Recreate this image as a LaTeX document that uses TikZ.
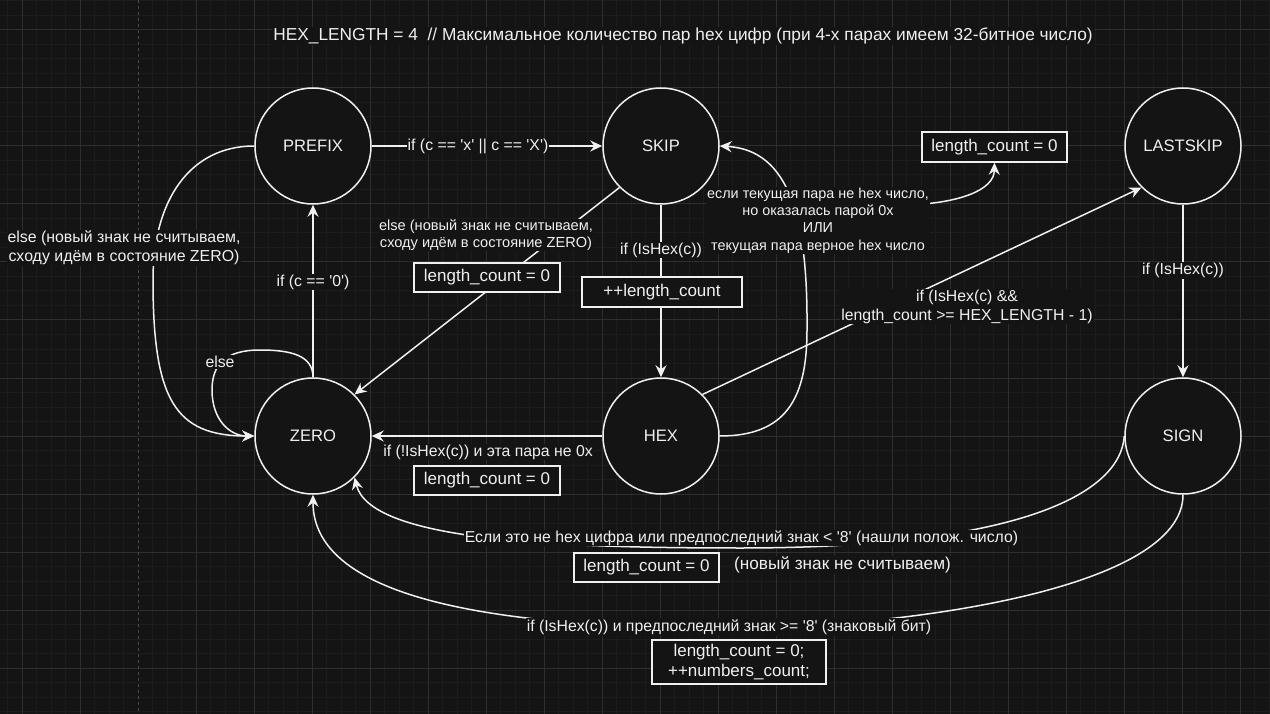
\documentclass[tikz,border=0pt]{standalone}
\usepackage{fontspec}
\setmainfont{Liberation Sans}[Ligatures=TeXOff]
\usetikzlibrary{arrows.meta}
\definecolor{bgc}{HTML}{141414}
\definecolor{gminor}{HTML}{1C1C1C}
\definecolor{gmajor}{HTML}{2E2E2E}
\definecolor{gdash}{HTML}{4A4A4A}
\definecolor{fg}{HTML}{F0F0F0}
\pgfdeclarelayer{gridlayer}
\pgfdeclarelayer{edgelayer}
\pgfsetlayers{gridlayer,edgelayer,main}
\begin{document}
\begin{tikzpicture}[x=1pt,y=-1pt,
  stt/.style={circle,draw=fg,line width=1.5pt,fill=bgc,minimum size=116pt,inner sep=0pt,text=fg,font=\fontsize{16.6}{20}\selectfont},
  lbl/.style={fill=bgc,inner sep=1pt,text=fg,align=center,font=\fontsize{15.8}{17.5}\selectfont},
  bx/.style={draw=fg,line width=1.5pt,fill=bgc,text=fg,inner sep=0pt,align=center,minimum width=146pt,minimum height=29pt,font=\fontsize{17}{20}\selectfont},
  arr/.style={draw=fg,line width=1.5pt,-{Stealth[length=12pt,width=11pt,inset=4pt]}}]
\useasboundingbox (0,0) rectangle (1270,714);
\begin{pgfonlayer}{gridlayer}
  \fill[bgc] (0,0) rectangle (1270,714);
  \foreach \k in {-1,...,86} \draw[gminor,line width=1pt] ({22+14.5*\k},0) -- ({22+14.5*\k},714);
  \foreach \k in {-2,...,47} \draw[gminor,line width=1pt] (0,{30+14.5*\k}) -- (1270,{30+14.5*\k});
  \foreach \k in {0,...,21} \draw[gmajor,line width=1pt] ({22+58*\k},0) -- ({22+58*\k},714);
  \foreach \k in {0,...,11} \draw[gmajor,line width=1pt] (0,{30+58*\k}) -- (1270,{30+58*\k});
  \draw[bgc,line width=1.2pt] (138.5,0) -- (138.5,714);
  \draw[gdash,line width=1pt,dash pattern=on 3pt off 3pt] (138.5,0) -- (138.5,714);
\end{pgfonlayer}

% states
\node[stt] (prefix) at (313,146) {PREFIX};
\node[stt] (skip) at (661,146) {SKIP};
\node[stt] (lastskip) at (1183,146) {LASTSKIP};
\node[stt] (zero) at (313,436) {ZERO};
\node[stt] (hex) at (661,436) {HEX};
\node[stt] (sign) at (1183,436) {SIGN};

% title
\node[lbl,font=\fontsize{17.3}{20}\selectfont] (title) at (683,36) {HEX\_LENGTH = 4\ \ // Максимальное количество пар hex цифр (при 4-х парах имеем 32-битное число)};

% labels and boxes
\node[lbl] (l1) at (478,146) {if (c == 'x' || c == 'X')};
\node[lbl] (l2) at (313,282) {if (c == '0')};
\node[lbl,font=\fontsize{15.9}{19}\selectfont] (l3) at (124,248) {else (новый знак не считываем,\\ сходу идём в состояние ZERO)};
\node[lbl] (l4) at (220,362) {else};
\node[lbl,font=\fontsize{14.6}{17}\selectfont] (l5) at (486,235) {else (новый знак не считываем,\\ сходу идём в состояние ZERO)};
\node[bx] (b5) at (487,277.5) {length\_count = 0};
\node[lbl] (l6) at (661,250) {if (IsHex(c))};
\node[bx,minimum width=160pt,minimum height=30pt] (b6) at (662,292) {++length\_count};
\node[lbl,font=\fontsize{14.4}{17.3}\selectfont] (l7) at (818,220.5) {если текущая пара не hex число,\\ но оказалась парой 0x\\ ИЛИ\\ текущая пара верное hex число};
\node[bx,minimum width=145pt,minimum height=30pt] (b7) at (994.5,147) {length\_count = 0};
\node[lbl,font=\fontsize{15.8}{19}\selectfont] (l8) at (967,306.5) {if (IsHex(c) \&\&\\ length\_count >= HEX\_LENGTH - 1)};
\node[lbl] (l9) at (488,452) {if (!IsHex(c)) и эта пара не 0x};
\node[bx] (b9) at (487,480.5) {length\_count = 0};
\node[lbl] (l10) at (1183,270.5) {if (IsHex(c))};
\node[lbl,inner sep=0.5pt] (l11) at (741.5,538) {Если это не hex цифра или предпоследний знак < '8' (нашли полож. число)};
\node[bx,minimum width=145pt] (b11) at (646.5,567.5) {length\_count = 0};
\node[lbl,font=\fontsize{17.2}{20}\selectfont] (l11b) at (842.5,565) {(новый знак не считываем)};
\node[lbl] (l12) at (729,627) {if (IsHex(c)) и предпоследний знак >= '8' (знаковый бит)};
\node[bx,minimum width=174pt,minimum height=44pt] (b12) at (739,662) {length\_count = 0;\\ ++numbers\_count;};
\coordinate (l7out) at (908,205);

% connectors
\begin{pgfonlayer}{edgelayer}
  \draw[arr] (prefix) -- (skip);
  \draw[arr] (zero) -- (prefix);
  \draw[arr] (skip) -- (hex);
  \draw[arr] (hex) -- (zero);
  \draw[arr] (lastskip) -- (sign);
  \draw[arr] (skip.225) -- (zero.45);
  \draw[arr] (hex.45) -- (lastskip.225);
  \draw[arr] (prefix.west) .. controls (190,146) and (153,200) .. (153,280) .. controls (153,400) and (175,436) .. (zero.west);
  \draw[arr] (zero.north) .. controls (313,355) and (290,350) .. (260,350) .. controls (225,350) and (212,365) .. (212,390) .. controls (212,420) and (230,436) .. (zero.west);
  \draw[arr] (hex.east) .. controls (785,436) and (807,400) .. (807,330) .. controls (808,220) and (790,150) .. (skip.east);
  \draw[arr] (l7out) .. controls (960,203) and (994,190) .. (b7.south);
  \draw[arr] (sign.west) .. controls (1120,500) and (1000,548) .. (741,548) .. controls (550,548) and (370,540) .. (zero.-45);
  \draw[arr] (sign.south) .. controls (1183,590) and (900,628) .. (729,628) .. controls (500,628) and (313,600) .. (zero.south);
\end{pgfonlayer}
\end{tikzpicture}
\end{document}
